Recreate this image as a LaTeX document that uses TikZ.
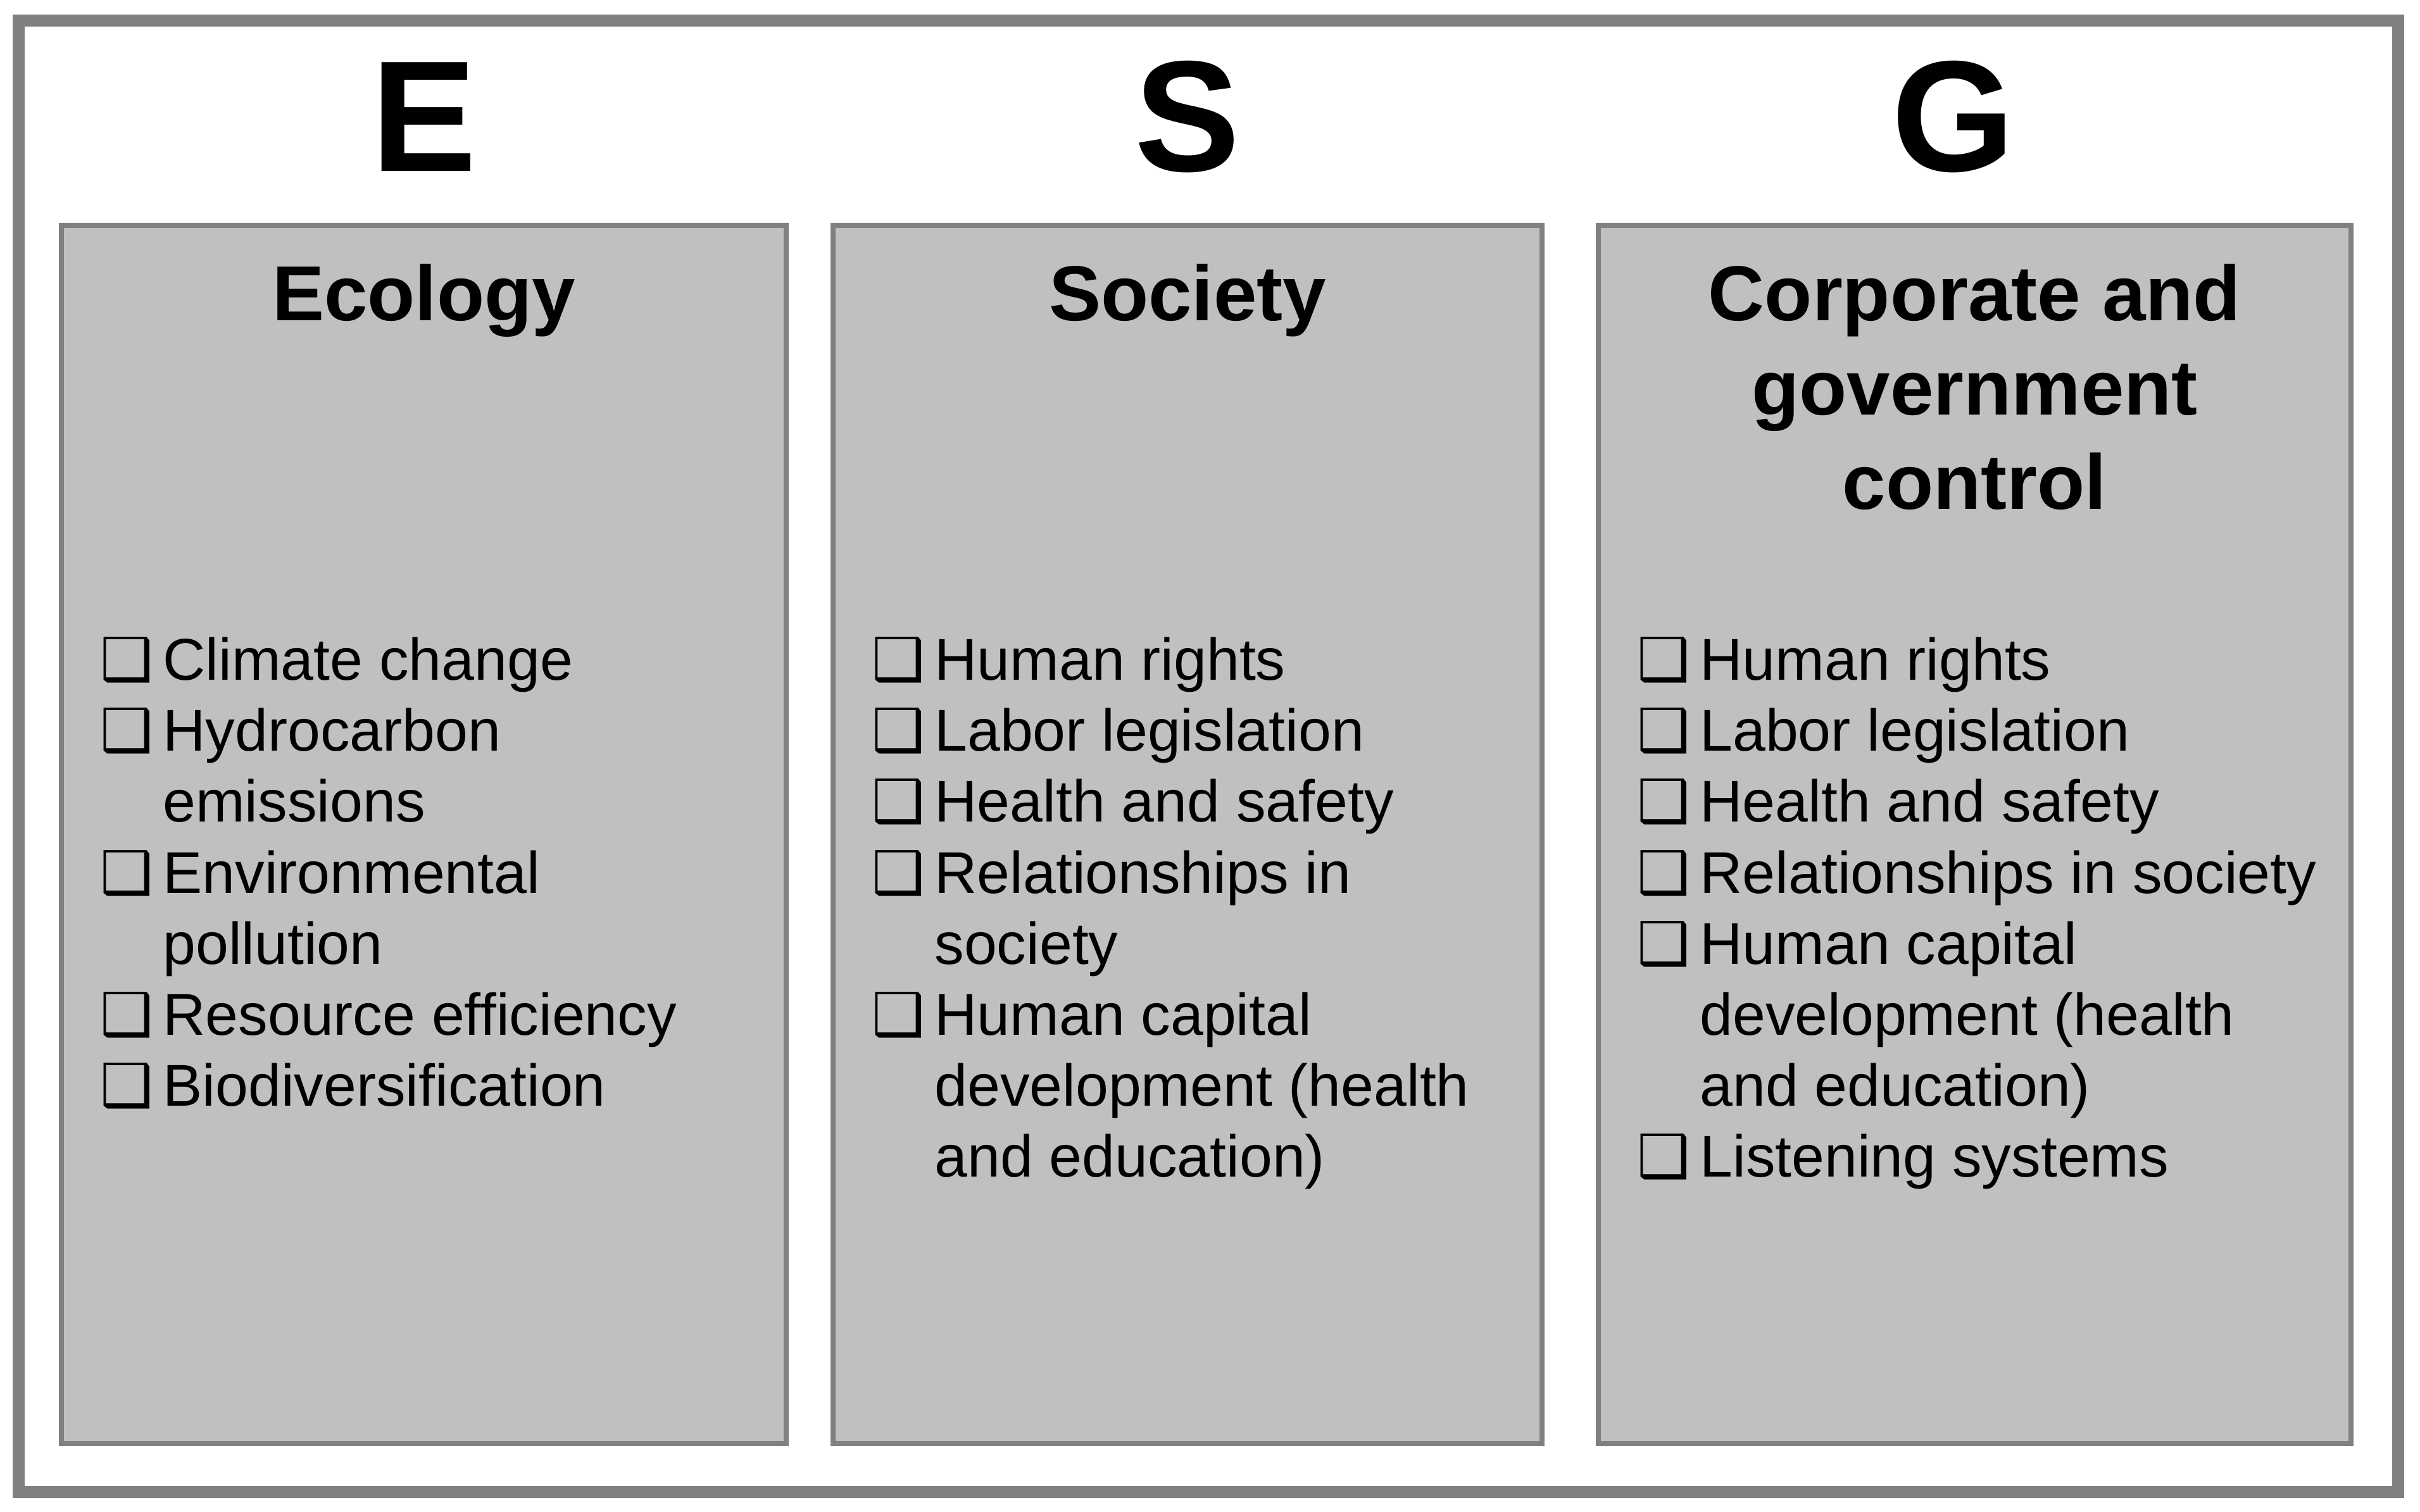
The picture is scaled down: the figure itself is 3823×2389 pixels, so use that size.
\documentclass[tikz,border=0pt]{standalone}
\usepackage{fontspec}
\setmainfont{Liberation Sans}
\newfontfamily\dingfont{DejaVu Sans}
\usepackage{tikz}
\usetikzlibrary{positioning}
\definecolor{framegray}{HTML}{808080}
\definecolor{boxgray}{HTML}{C0C0C0}
\newcommand{\chk}{\makebox[28.2pt][l]{\dingfont ❑}}
\tikzset{
    frame-line/.style = {draw=framegray, line width=5.4pt, inner sep=0pt},
    pillar-box/.style = {draw=framegray, fill=boxgray, line width=2.3pt, inner sep=0pt, minimum height=19.23cm},
    pillar-letter/.style = {anchor=base, inner sep=0pt, font=\fontsize{71}{80}\selectfont\bfseries},
    pillar-title/.style = {anchor=base, inner sep=0pt, font=\fontsize{35}{42.4}\selectfont\bfseries},
    pillar-list/.style = {anchor=base west, inner sep=0pt, font=\fontsize{26.5}{31.87}\selectfont},
}
\begin{document}
\begin{tikzpicture}[x=0.01cm, y=-0.01cm]
\useasboundingbox (0,0) rectangle (3823,2389);
\node[frame-line, minimum width=37.56cm, minimum height=23.24cm] (frame) at (1909,1195) {};

% the three pillars
\node[pillar-box, minimum width=11.45cm] (eco-box) at (669.5,1318.5) {};
\node[pillar-box, minimum width=11.20cm] (soc-box) at (1876,1318.5) {};
\node[pillar-box, minimum width=11.89cm] (gov-box) at (3119.5,1318.5) {};

\node[pillar-letter] (eco-letter) at ([yshift=0.82cm]eco-box.north) {E};
\node[pillar-letter] (soc-letter) at ([yshift=0.82cm]soc-box.north) {S};
\node[pillar-letter] (gov-letter) at ([xshift=-0.34cm, yshift=0.82cm]gov-box.north) {G};

\node[pillar-title] (eco-title) at ([yshift=-1.54cm]eco-box.north) {Ecology};
\node[pillar-title] (soc-title) at ([yshift=-1.54cm]soc-box.north) {Society};
\node[pillar-title] (gov-title) at ([yshift=-1.54cm]gov-box.north) {\begin{tabular}[t]{@{}c@{}}Corporate and\\government\\control\end{tabular}};

% item lists
\node[pillar-list] (eco-list) at ([xshift=0.65cm, yshift=-7.22cm]eco-box.north west) {\begin{tabular}[t]{@{}l@{}l@{}}
    \chk & Climate change\\
    \chk & Hydrocarbon\\
         & emissions\\
    \chk & Environmental\\
         & pollution\\
    \chk & Resource efficiency\\
    \chk & Biodiversification
\end{tabular}};
\node[pillar-list] (soc-list) at ([xshift=0.65cm, yshift=-7.22cm]soc-box.north west) {\begin{tabular}[t]{@{}l@{}l@{}}
    \chk & Human rights\\
    \chk & Labor legislation\\
    \chk & Health and safety\\
    \chk & Relationships in\\
         & society\\
    \chk & Human capital\\
         & development (health\\
         & and education)
\end{tabular}};
\node[pillar-list] (gov-list) at ([xshift=0.65cm, yshift=-7.22cm]gov-box.north west) {\begin{tabular}[t]{@{}l@{}l@{}}
    \chk & Human rights\\
    \chk & Labor legislation\\
    \chk & Health and safety\\
    \chk & Relationships in society\\
    \chk & Human capital\\
         & development (health\\
         & and education)\\
    \chk & Listening systems
\end{tabular}};
\end{tikzpicture}
\end{document}
